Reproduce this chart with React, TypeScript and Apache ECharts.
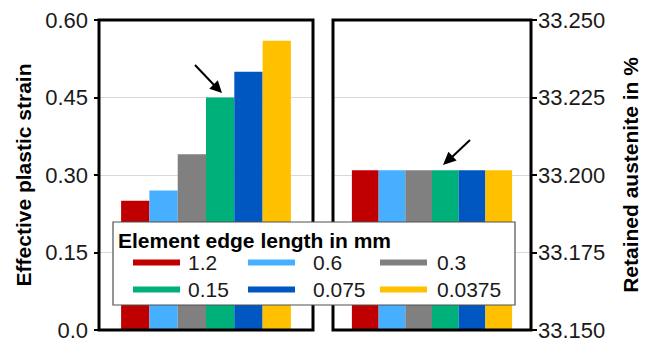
import React, { useEffect, useRef } from "react";
import * as echarts from "echarts";

const categories = ["1.2", "0.6", "0.3", "0.15", "0.075", "0.0375"];
const strainValues = [0.25, 0.27, 0.34, 0.45, 0.5, 0.56];
const austeniteValues = [33.2015, 33.2015, 33.2015, 33.2015, 33.2015, 33.2015];
const colors = ["#C00000", "#47AFFF", "#808080", "#00B07A", "#0057C2", "#FFC000"];
const strainTicks = ["0.0", "0.15", "0.30", "0.45", "0.60"];
const austeniteTicks = ["33.150", "33.175", "33.200", "33.225", "33.250"];
const legendTitle = "Element edge length in mm";
const leftTitle = "Effective plastic strain";
const rightTitle = "Retained austenite in %";

const FONT = "'Liberation Sans', Arial, sans-serif";

export default function App() {
  const ref = useRef<HTMLDivElement>(null);
  useEffect(() => {
    if (!ref.current) return;
    const chart = echarts.init(ref.current, undefined, { renderer: "svg" });
    const series: any[] = [];
    categories.forEach((c, i) => {
      series.push({
        name: c,
        type: "bar",
        xAxisIndex: 0,
        yAxisIndex: 0,
        data: [strainValues[i]],
        barWidth: 28.3,
        barGap: "0%",
        itemStyle: { color: colors[i] },
      });
    });
    categories.forEach((c, i) => {
      series.push({
        name: c,
        type: "bar",
        xAxisIndex: 1,
        yAxisIndex: 1,
        data: [austeniteValues[i]],
        barWidth: 26.7,
        barGap: "0%",
        itemStyle: { color: colors[i] },
      });
    });
    const axisLabelStyle = { fontFamily: FONT, fontSize: 22, color: "#1a1a1a" };
    const nameStyle = { fontFamily: FONT, fontSize: 21, fontWeight: "bold", color: "#000" };
    const legendCommon = {
      orient: "vertical",
      top: 252,
      padding: 0,
      itemWidth: 47,
      itemHeight: 6,
      itemGap: 6,
      icon: "rect",
      selectedMode: false,
      z: 101,
    };
    const legendText = (pad: number) => ({
      fontFamily: FONT,
      fontSize: 21,
      lineHeight: 21,
      color: "#1a1a1a",
      padding: [0, 0, 0, pad],
    });
    chart.setOption({
      animation: false,
      grid: [
        { left: 99, top: 20, width: 214, height: 310, show: true, borderColor: "#000", borderWidth: 3, z: 10 },
        { left: 333, top: 20, width: 198, height: 310, show: true, borderColor: "#000", borderWidth: 3, z: 10 },
      ],
      xAxis: [
        { type: "category", gridIndex: 0, data: [""], axisLine: { show: false }, axisTick: { show: false }, axisLabel: { show: false } },
        { type: "category", gridIndex: 1, data: [""], axisLine: { show: false }, axisTick: { show: false }, axisLabel: { show: false } },
      ],
      yAxis: [
        {
          type: "value",
          gridIndex: 0,
          min: 0,
          max: 0.6,
          interval: 0.15,
          axisLine: { show: false },
          axisTick: { show: true, length: 5, lineStyle: { color: "#000", width: 2 } },
          splitLine: { show: true, lineStyle: { color: "#D9D9D9", width: 1 } },
          axisLabel: {
            ...axisLabelStyle,
            margin: 11,
            formatter: (v: number) => strainTicks[Math.round(v / 0.15)],
          },
          name: leftTitle,
          nameLocation: "middle",
          nameRotate: 90,
          nameGap: 65,
          nameTextStyle: nameStyle,
        },
        {
          type: "value",
          gridIndex: 1,
          position: "right",
          min: 33.15,
          max: 33.25,
          interval: 0.025,
          axisLine: { show: false },
          axisTick: { show: true, length: 6, lineStyle: { color: "#000", width: 2 } },
          splitLine: { show: true, lineStyle: { color: "#D9D9D9", width: 1 } },
          axisLabel: {
            ...axisLabelStyle,
            margin: 7,
            formatter: (v: number) => austeniteTicks[Math.round((v - 33.15) / 0.025)],
          },
          name: rightTitle,
          nameLocation: "middle",
          nameRotate: 90,
          nameGap: 89,
          nameTextStyle: nameStyle,
        },
      ],
      legend: [
        { ...legendCommon, left: 133, data: [categories[0], categories[3]], textStyle: legendText(3) },
        { ...legendCommon, left: 248, data: [categories[1], categories[4]], textStyle: legendText(13) },
        { ...legendCommon, left: 380, data: [categories[2], categories[5]], textStyle: legendText(5) },
      ],
      graphic: [
        {
          type: "rect",
          z: 100,
          shape: { x: 113, y: 222, width: 402, height: 83 },
          style: { fill: "#fff", stroke: "#505050", lineWidth: 1.2 },
        },
        {
          type: "text",
          z: 101,
          x: 118,
          y: 240,
          style: {
            text: legendTitle,
            fontFamily: FONT,
            fontSize: 21,
            fontWeight: "bold",
            fill: "#000",
            verticalAlign: "middle",
          },
        },
        {
          type: "line",
          z: 50,
          shape: { x1: 195, y1: 65, x2: 214, y2: 85 },
          style: { stroke: "#000", lineWidth: 2 },
        },
        {
          type: "polygon",
          z: 50,
          shape: { points: [[222, 93], [209.3, 88.8], [217.8, 80.3]] },
          style: { fill: "#000" },
        },
        {
          type: "line",
          z: 50,
          shape: { x1: 470, y1: 140, x2: 452, y2: 157 },
          style: { stroke: "#000", lineWidth: 2 },
        },
        {
          type: "polygon",
          z: 50,
          shape: { points: [[443, 165], [456.6, 160.6], [448.4, 151.8]] },
          style: { fill: "#000" },
        },
      ],
      series,
    });
    return () => chart.dispose();
  }, []);
  return (
    <div
      ref={ref}
      style={{ position: "fixed", left: 0, top: 0, width: 648, height: 343, background: "#fff" }}
    />
  );
}
